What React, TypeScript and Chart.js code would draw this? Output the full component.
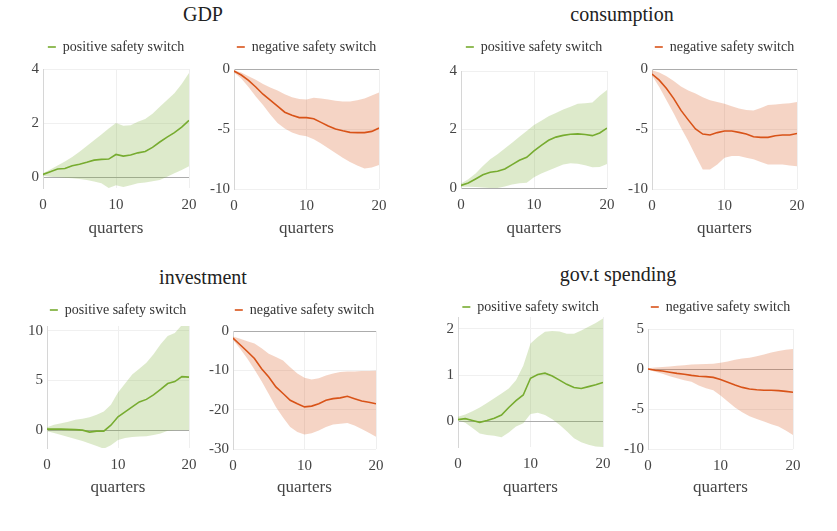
import React, { useEffect, useRef } from 'react';
import { Chart, registerables } from 'chart.js';

Chart.register(...registerables);

// x axis: quarters after the shock
const quarters = [0, 1, 2, 3, 4, 5, 6, 7, 8, 9, 10, 11, 12, 13, 14, 15, 16, 17, 18, 19, 20];
const xTicks = [0, 10, 20];

// GDP
const gdpPosMean = [0.1, 0.2, 0.3, 0.32, 0.42, 0.48, 0.55, 0.63, 0.66, 0.67, 0.84, 0.78, 0.82, 0.9, 0.95, 1.1, 1.3, 1.48, 1.65, 1.85, 2.1];
const gdpPosUpper = [0.15, 0.28, 0.43, 0.58, 0.75, 0.94, 1.15, 1.37, 1.58, 1.8, 2.0, 1.9, 1.92, 2.05, 2.15, 2.35, 2.6, 2.85, 3.1, 3.45, 3.85];
const gdpPosLower = [0.05, 0.02, 0.0, -0.02, -0.04, -0.07, -0.1, -0.16, -0.22, -0.4, -0.3, -0.36, -0.3, -0.22, -0.2, -0.15, -0.1, 0.02, 0.15, 0.27, 0.4];
const gdpNegMean = [-0.17, -0.5, -0.95, -1.5, -2.1, -2.6, -3.1, -3.6, -3.85, -4.05, -4.05, -4.15, -4.45, -4.75, -5.0, -5.15, -5.28, -5.3, -5.3, -5.2, -4.92];
const gdpNegUpper = [-0.1, -0.3, -0.6, -0.9, -1.25, -1.55, -1.8, -2.1, -2.36, -2.5, -2.55, -2.4, -2.45, -2.55, -2.65, -2.7, -2.7, -2.6, -2.45, -2.2, -1.95];
const gdpNegLower = [-0.3, -0.8, -1.5, -2.3, -3.0, -3.8, -4.5, -4.95, -5.3, -5.5, -5.6, -5.85, -6.2, -6.6, -7.0, -7.4, -7.75, -8.05, -8.3, -8.2, -8.0];

// consumption
const consPosMean = [0.09, 0.17, 0.31, 0.45, 0.54, 0.57, 0.65, 0.8, 0.95, 1.05, 1.27, 1.46, 1.63, 1.74, 1.8, 1.84, 1.85, 1.83, 1.79, 1.88, 2.05];
const consPosUpper = [0.15, 0.3, 0.5, 0.75, 0.98, 1.15, 1.35, 1.55, 1.75, 1.95, 2.15, 2.3, 2.45, 2.56, 2.68, 2.78, 2.88, 2.9, 2.92, 3.15, 3.35];
const consPosLower = [0.04, 0.04, 0.03, 0.02, 0.0, 0.0, 0.05, 0.12, 0.16, 0.18, 0.37, 0.5, 0.6, 0.7, 0.8, 0.85, 0.83, 0.78, 0.71, 0.72, 0.82];
const consNegMean = [-0.42, -0.93, -1.63, -2.47, -3.45, -4.24, -5.0, -5.42, -5.5, -5.3, -5.17, -5.17, -5.28, -5.42, -5.65, -5.7, -5.7, -5.56, -5.5, -5.5, -5.37];
const consNegUpper = [-0.1, -0.3, -0.6, -1.0, -1.45, -1.8, -2.05, -2.35, -2.6, -2.75, -2.9, -3.1, -3.3, -3.42, -3.45, -3.25, -3.0, -2.95, -2.9, -2.85, -2.75];
const consNegLower = [-0.55, -1.5, -2.6, -3.7, -4.9, -6.0, -7.2, -8.37, -8.37, -7.95, -7.4, -7.25, -7.25, -7.4, -7.53, -7.75, -7.95, -7.95, -7.95, -8.05, -8.1];

// investment
const invPosMean = [0.1, 0.1, 0.1, 0.08, 0.05, 0.0, -0.2, -0.1, -0.1, 0.5, 1.35, 1.85, 2.35, 2.85, 3.1, 3.55, 4.1, 4.7, 4.9, 5.4, 5.35];
const invPosUpper = [0.3, 0.55, 0.7, 0.85, 1.05, 1.15, 1.3, 1.55, 1.87, 2.55, 3.8, 4.7, 5.6, 6.2, 6.8, 7.65, 8.67, 9.5, 9.8, 10.6, 10.6];
const invPosLower = [-0.1, -0.3, -0.5, -0.7, -0.9, -1.1, -1.35, -1.6, -1.87, -1.53, -1.0, -0.8, -0.68, -0.65, -0.61, -0.5, -0.34, -0.07, 0.0, 0.0, 0.0];
const invNegMean = [-1.8, -3.5, -5.2, -7.0, -9.6, -11.7, -14.2, -15.9, -17.6, -18.5, -19.3, -19.1, -18.5, -17.6, -17.2, -17.0, -16.6, -17.2, -17.8, -18.1, -18.5];
const invNegUpper = [-1.4, -2.0, -2.6, -3.2, -4.4, -5.8, -6.6, -7.5, -9.2, -10.8, -11.9, -12.3, -12.0, -11.3, -10.8, -10.4, -10.3, -10.3, -10.2, -10.2, -10.1];
const invNegLower = [-2.2, -4.5, -7.0, -9.8, -12.8, -16.0, -19.3, -22.0, -24.4, -25.7, -26.3, -26.0, -25.3, -24.4, -23.8, -23.6, -23.4, -24.0, -24.9, -25.9, -26.9];

// government spending
const govPosMean = [0.04, 0.06, 0.02, -0.02, 0.02, 0.07, 0.14, 0.3, 0.45, 0.57, 0.93, 1.01, 1.04, 0.98, 0.89, 0.8, 0.73, 0.71, 0.75, 0.79, 0.84];
const govPosUpper = [0.1, 0.15, 0.22, 0.3, 0.4, 0.5, 0.6, 0.71, 0.89, 1.2, 1.68, 1.82, 1.93, 1.95, 1.94, 1.89, 1.89, 1.96, 2.04, 2.12, 2.22];
const govPosLower = [0.03, -0.03, -0.14, -0.26, -0.29, -0.31, -0.34, -0.24, -0.11, -0.04, 0.16, 0.19, 0.14, 0.05, -0.07, -0.21, -0.36, -0.45, -0.5, -0.54, -0.55];
const govNegMean = [0.0, -0.15, -0.25, -0.4, -0.55, -0.65, -0.8, -0.9, -0.95, -1.05, -1.3, -1.65, -2.0, -2.3, -2.5, -2.6, -2.65, -2.65, -2.7, -2.8, -2.9];
const govNegUpper = [0.1, 0.18, 0.25, 0.32, 0.4, 0.48, 0.55, 0.6, 0.62, 0.65, 0.78, 0.95, 1.15, 1.3, 1.42, 1.6, 1.8, 2.07, 2.25, 2.4, 2.5];
const govNegLower = [-0.1, -0.35, -0.6, -0.9, -1.15, -1.4, -1.6, -2.05, -2.4, -2.67, -3.3, -4.05, -4.8, -5.4, -5.9, -6.25, -6.55, -6.9, -7.2, -7.7, -8.25];

const posLabel = 'positive safety switch';
const negLabel = 'negative safety switch';

const GREEN = '#77ac30';
const GREEN_FILL = 'rgba(119,172,48,0.25)';
const ORANGE = '#d95319';
const ORANGE_FILL = 'rgba(217,83,25,0.25)';
const FONT = "'Liberation Serif', 'Times New Roman', serif";
const AXIS_W = 32;
const LEGEND_H = 28; // 14px font + 4 padding + 10

interface PanelProps {
  label: string;
  mean: number[];
  upper: number[];
  lower: number[];
  color: string;
  fill: string;
  left: number;
  right: number;
  top: number;
  bottom: number;
  yMin: number;
  yMax: number;
  yTicks: number[];
  legendY: number;
  xTitleY: number;
}

const toXY = (arr: number[]) => arr.map((y, i) => ({ x: quarters[i], y }));

const Panel: React.FC<PanelProps> = (p) => {
  const ref = useRef<HTMLCanvasElement>(null);
  const boxTop = p.legendY - 11;
  const above = p.top - boxTop;
  const legendH = Math.min(LEGEND_H, above);
  const spacer = above - legendH;
  const xAxisH = p.xTitleY + 14 - p.bottom;
  const width = p.right - p.left + 2 * AXIS_W;
  const height = p.bottom - boxTop + xAxisH;

  useEffect(() => {
    if (!ref.current) return;
    const chart = new Chart(ref.current, {
      type: 'line',
      data: {
        datasets: [
          { label: 'upper', data: toXY(p.upper), fill: '+1', backgroundColor: p.fill, borderWidth: 0, pointRadius: 0 },
          { label: 'lower', data: toXY(p.lower), fill: false, borderWidth: 0, pointRadius: 0 },
          { label: p.label, data: toXY(p.mean), fill: false, borderColor: p.color, backgroundColor: p.color, borderWidth: 1.6, pointRadius: 0 },
        ],
      },
      options: {
        animation: false,
        responsive: true,
        maintainAspectRatio: false,
        events: [],
        plugins: {
          tooltip: { enabled: false },
          legend: {
            position: 'top',
            maxHeight: legendH,
            labels: {
              filter: item => item.datasetIndex === 2,
              usePointStyle: true,
              pointStyle: 'line',
              pointStyleWidth: 8,
              padding: 4,
              color: '#333',
              font: { family: FONT, size: 14 },
            },
          },
        },
        scales: {
          x: {
            type: 'linear',
            min: 0,
            max: 20,
            afterBuildTicks: s => { s.ticks = xTicks.map(v => ({ value: v })); },
            afterFit: s => { s.height = xAxisH; s.paddingRight = AXIS_W; },
            ticks: { padding: 8, maxRotation: 0, color: '#444', font: { family: FONT, size: 15 } },
            grid: { color: '#efefef', drawTicks: false },
            border: { display: false },
            title: { display: true, text: 'quarters', color: '#444', font: { family: FONT, size: 17 }, padding: { top: 0, bottom: 2 } },
          },
          // empty top axis: keeps the gap between legend and plot
          xTop: {
            type: 'linear',
            axis: 'x',
            position: 'top',
            ticks: { display: false },
            grid: { display: false, drawTicks: false },
            border: { display: false },
            afterFit: s => { s.height = spacer; },
          },
          y: {
            min: p.yMin,
            max: p.yMax,
            afterBuildTicks: s => { s.ticks = p.yTicks.map(v => ({ value: v })); },
            afterFit: s => { s.width = AXIS_W; },
            ticks: { padding: 4, color: '#444', font: { family: FONT, size: 15 } },
            grid: {
              color: ctx => (ctx.tick && ctx.tick.value === 0 ? '#acacac' : '#f0f0f0'),
              drawTicks: false,
            },
            border: { color: '#d6d6d6' },
          },
        },
      },
    });
    return () => { chart.destroy(); };
  }, []);

  return (
    <div style={{ position: 'absolute', left: p.left - AXIS_W, top: boxTop, width, height }}>
      <canvas ref={ref} />
    </div>
  );
};

const GroupTitle: React.FC<{ text: string; cx: number; cy: number }> = ({ text, cx, cy }) => (
  <div style={{
    position: 'absolute', left: cx - 120, top: cy - 12, width: 240, lineHeight: '24px',
    textAlign: 'center', fontFamily: FONT, fontSize: 20, color: '#222',
  }}>
    {text}
  </div>
);

const App: React.FC = () => (
  <div style={{ position: 'absolute', left: 0, top: 0, width: 837, height: 531, background: '#fff', overflow: 'hidden' }}>
    <GroupTitle text="GDP" cx={203} cy={14} />
    <GroupTitle text="consumption" cx={622} cy={14} />
    <GroupTitle text="investment" cx={203} cy={277} />
    <GroupTitle text="gov.t spending" cx={618} cy={274} />

    <Panel label={posLabel} mean={gdpPosMean} upper={gdpPosUpper} lower={gdpPosLower} color={GREEN} fill={GREEN_FILL}
      left={43} right={189} top={69} bottom={188} yMin={-0.4} yMax={4} yTicks={[0, 2, 4]} legendY={47} xTitleY={227} />
    <Panel label={negLabel} mean={gdpNegMean} upper={gdpNegUpper} lower={gdpNegLower} color={ORANGE} fill={ORANGE_FILL}
      left={234} right={379} top={69} bottom={189} yMin={-10} yMax={0} yTicks={[-10, -5, 0]} legendY={47} xTitleY={227} />
    <Panel label={posLabel} mean={consPosMean} upper={consPosUpper} lower={consPosLower} color={GREEN} fill={GREEN_FILL}
      left={461} right={607} top={71} bottom={188} yMin={0} yMax={4} yTicks={[0, 2, 4]} legendY={47} xTitleY={227} />
    <Panel label={negLabel} mean={consNegMean} upper={consNegUpper} lower={consNegLower} color={ORANGE} fill={ORANGE_FILL}
      left={652} right={797} top={69} bottom={189} yMin={-10} yMax={0} yTicks={[-10, -5, 0]} legendY={47} xTitleY={227} />

    <Panel label={posLabel} mean={invPosMean} upper={invPosUpper} lower={invPosLower} color={GREEN} fill={GREEN_FILL}
      left={47} right={189} top={326} bottom={448} yMin={-1.8} yMax={10.5} yTicks={[0, 5, 10]} legendY={310} xTitleY={486} />
    <Panel label={negLabel} mean={invNegMean} upper={invNegUpper} lower={invNegLower} color={ORANGE} fill={ORANGE_FILL}
      left={233} right={376} top={331} bottom={449} yMin={-30} yMax={0} yTicks={[-30, -20, -10, 0]} legendY={310} xTitleY={486} />
    <Panel label={posLabel} mean={govPosMean} upper={govPosUpper} lower={govPosLower} color={GREEN} fill={GREEN_FILL}
      left={458} right={603} top={317} bottom={447} yMin={-0.55} yMax={2.25} yTicks={[0, 1, 2]} legendY={307} xTitleY={486} />
    <Panel label={negLabel} mean={govNegMean} upper={govNegUpper} lower={govNegLower} color={ORANGE} fill={ORANGE_FILL}
      left={648} right={793} top={329} bottom={449} yMin={-10} yMax={5} yTicks={[-10, -5, 0, 5]} legendY={307} xTitleY={486} />
  </div>
);

export default App;
